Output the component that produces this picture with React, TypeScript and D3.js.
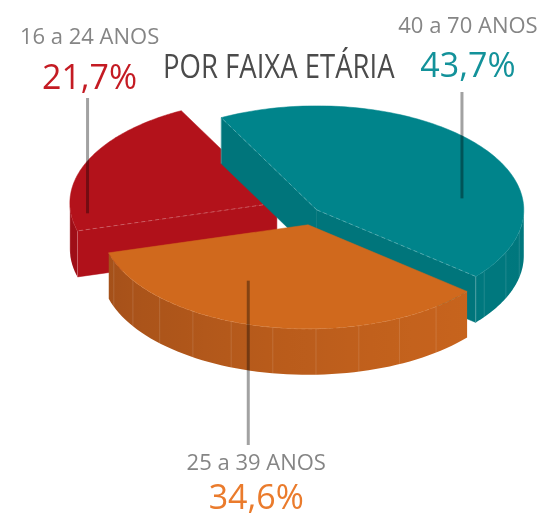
import React, { useEffect, useRef } from 'react';
import * as d3 from 'd3';

// slices in drawing order around the pie (clockwise from the back-left)
const categories = ['40 a 70 ANOS', '25 a 39 ANOS', '16 a 24 ANOS'];
const values = [43.7, 34.6, 21.7];
const valueLabels = ['43,7%', '34,6%', '21,7%'];
const title = 'POR FAIXA ETÁRIA';

const topColors = ['#00848b', '#d0691d', '#b3121b'];
const wallColors = ['#00757b', '#b8591b', '#b0111a'];
const sideDark = ['#00646a', '#a24f19', '#9e0e17'];
const sideLight = ['#00787e', '#c8641d', '#ab1019'];
const textColors = ['#13929a', '#ea7b2c', '#c41b23'];

const W = 547;
const H = 518;

export default function App() {
  const svgRef = useRef<SVGSVGElement>(null);

  useEffect(() => {
    if (!svgRef.current) return;
    const svg = d3.select(svgRef.current);
    svg.selectAll('*').remove();

    const rx = 207;
    const ry = 104;
    const depth = 46;
    const center = { x: 314, y: 211 };
    const startDeg = -117.5; // screen angle where the first slice starts
    const explode = [3, 15, 38];
    // where each leader line touches its slice, and where it ends
    const leader = [
      { f: 0.69, r: 0.71, end: 92 },
      { f: 0.63, r: 0.61, end: 445 },
      { f: 0.12, r: 0.92, end: 98 },
    ];
    const labelLayout = [
      { dx: 6, nameY: 33, pctY: 77 },
      { dx: 8, nameY: 470, pctY: 509 },
      { dx: 2, nameY: 44, pctY: 89 },
    ];

    const rad = (d: number) => (d * Math.PI) / 180;
    const pie = d3
      .pie<number>()
      .sort(null)
      .startAngle(rad(startDeg + 90))
      .endAngle(rad(startDeg + 90 + 360));
    const arcs = pie(values);

    const slices = arcs.map((a, i) => {
      const t0 = a.startAngle - Math.PI / 2;
      const t1 = a.endAngle - Math.PI / 2;
      const m = (t0 + t1) / 2;
      const vx = rx * Math.cos(m);
      const vy = ry * Math.sin(m);
      const len = Math.hypot(vx, vy);
      return {
        i,
        t0,
        t1,
        cx: center.x + (explode[i] * vx) / len,
        cy: center.y + (explode[i] * vy) / len,
      };
    });

    type S = (typeof slices)[number];
    const pt = (s: S, t: number, r = 1, z = 0): [number, number] => [
      s.cx + rx * r * Math.cos(t),
      s.cy + ry * r * Math.sin(t) + z,
    ];
    const line = d3.line();
    const shade = (i: number, t: number) =>
      d3.interpolateRgb(sideDark[i], sideLight[i])((1 + Math.cos(t - rad(20))) / 2);

    // horizontal gradients for the curved sides (left = back-left angle, right = 0)
    const defs = svg.append('defs');
    slices.forEach(s => {
      const grad = defs
        .append('linearGradient')
        .attr('id', `side-${s.i}`)
        .attr('gradientUnits', 'userSpaceOnUse')
        .attr('x1', s.cx - rx)
        .attr('x2', s.cx + rx)
        .attr('y1', 0)
        .attr('y2', 0);
      d3.range(0, 21).forEach(k => {
        const u = k / 20;
        grad.append('stop')
          .attr('offset', u)
          .attr('stop-color', shade(s.i, Math.acos(2 * u - 1)));
      });
    });

    const g = svg.append('g');
    const order = [...slices].sort((a, b) => a.cy - b.cy);

    order.forEach(s => {
      const sg = g.append('g');
      const apex: [number, number] = [s.cx, s.cy];

      // outer side, only the part facing us
      for (let k = -1; k <= 1; k++) {
        const lo = Math.max(s.t0, 2 * Math.PI * k);
        const hi = Math.min(s.t1, 2 * Math.PI * k + Math.PI);
        if (hi <= lo) continue;
        const n = 60;
        const ts = d3.range(0, n + 1).map(j => lo + ((hi - lo) * j) / n);
        const topEdge = ts.map(t => pt(s, t));
        const bottomEdge = ts.slice().reverse().map(t => pt(s, t, 1, depth));
        sg.append('path')
          .attr('d', line([...topEdge, ...bottomEdge]) + 'Z')
          .attr('fill', `url(#side-${s.i})`);
        // a few pale seams, like the original render
        const seamStep = rad(12);
        for (let t = lo + seamStep; t < hi - rad(3); t += seamStep) {
          const p0 = pt(s, t);
          sg.append('line')
            .attr('x1', p0[0]).attr('y1', p0[1])
            .attr('x2', p0[0]).attr('y2', p0[1] + depth)
            .attr('stroke', '#ffffff')
            .attr('stroke-opacity', 0.16)
            .attr('stroke-width', 0.8);
        }
        // faint dashed rim edge
        sg.append('path')
          .attr('d', line(topEdge))
          .attr('fill', 'none')
          .attr('stroke', '#ffffff')
          .attr('stroke-opacity', 0.3)
          .attr('stroke-width', 0.8)
          .attr('stroke-dasharray', '4,3');
      }

      // radial cut walls that face us
      const walls = [
        { t: s.t0, vis: Math.cos(s.t0) < 0 },
        { t: s.t1, vis: Math.cos(s.t1) > 0 },
      ];
      walls.filter(w => w.vis).forEach(w => {
        const b = pt(s, w.t);
        sg.append('path')
          .attr('d', line([apex, b, [b[0], b[1] + depth], [apex[0], apex[1] + depth]]) + 'Z')
          .attr('fill', wallColors[s.i])
          .attr('stroke', wallColors[s.i])
          .attr('stroke-width', 0.5);
        sg.append('line')
          .attr('x1', b[0]).attr('y1', b[1])
          .attr('x2', b[0]).attr('y2', b[1] + depth)
          .attr('stroke', '#ffffff')
          .attr('stroke-opacity', 0.3)
          .attr('stroke-width', 0.8);
      });

      // top face
      const n = 120;
      const rim = d3.range(0, n + 1).map(j => pt(s, s.t0 + ((s.t1 - s.t0) * j) / n));
      sg.append('path')
        .attr('d', line([apex, ...rim]) + 'Z')
        .attr('fill', topColors[s.i])
        .attr('stroke', topColors[s.i])
        .attr('stroke-width', 0.5);

      walls.filter(w => w.vis).forEach(w => {
        const b = pt(s, w.t);
        sg.append('line')
          .attr('x1', apex[0]).attr('y1', apex[1])
          .attr('x2', b[0]).attr('y2', b[1])
          .attr('stroke', '#ffffff')
          .attr('stroke-opacity', 0.35)
          .attr('stroke-width', 0.8)
          .attr('stroke-dasharray', '4,3');
      });
    });

    // leader lines and labels
    slices.forEach(s => {
      const L = leader[s.i];
      const a = pt(s, s.t0 + (s.t1 - s.t0) * L.f, L.r);
      g.append('line')
        .attr('x1', a[0]).attr('y1', a[1])
        .attr('x2', a[0]).attr('y2', L.end)
        .attr('stroke', '#a2a2a2')
        .attr('stroke-width', 3)
        .style('mix-blend-mode', 'multiply');

      const lay = labelLayout[s.i];
      g.append('text')
        .attr('x', a[0] + lay.dx)
        .attr('y', lay.nameY)
        .attr('text-anchor', 'middle')
        .attr('font-family', '"Open Sans", sans-serif')
        .attr('font-size', 22)
        .attr('fill', '#858585')
        .text(categories[s.i]);
      g.append('text')
        .attr('x', a[0] + lay.dx)
        .attr('y', lay.pctY)
        .attr('text-anchor', 'middle')
        .attr('font-family', '"Open Sans", sans-serif')
        .attr('font-size', 34)
        .attr('fill', textColors[s.i])
        .text(valueLabels[s.i]);
    });

    // condensed title: squeeze Open Sans horizontally
    const squeeze = 0.86;
    g.append('text')
      .attr('transform', `translate(163,78) scale(${squeeze},1)`)
      .attr('font-family', '"Open Sans", sans-serif')
      .attr('font-size', 32)
      .attr('fill', '#4b4b4b')
      .text(title);
  }, []);

  return (
    <svg
      ref={svgRef}
      width={W}
      height={H}
      style={{ position: 'absolute', left: 0, top: 0, background: '#fff' }}
    />
  );
}
